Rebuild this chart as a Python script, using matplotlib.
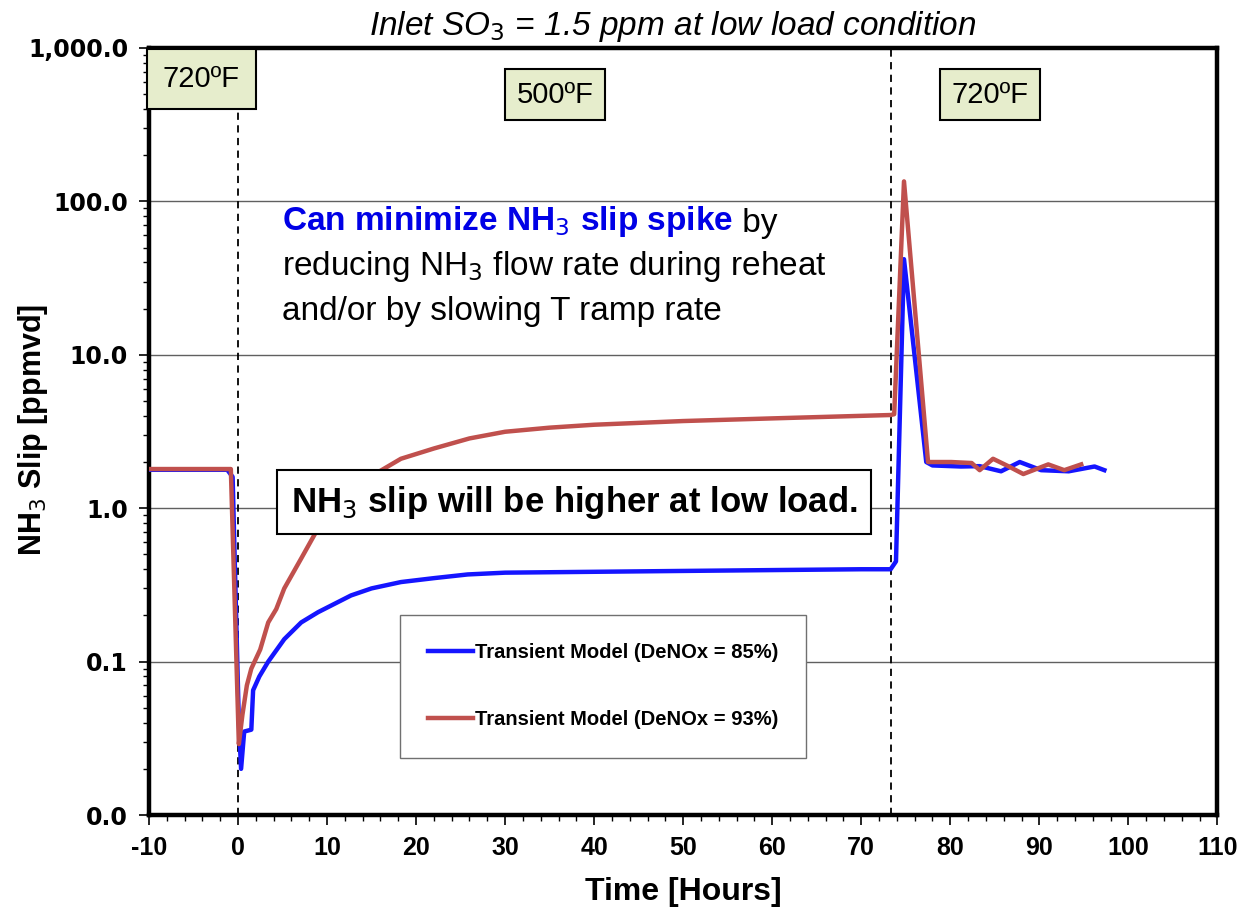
import numpy as np
import matplotlib
matplotlib.use('Agg')
import matplotlib.pyplot as plt
from matplotlib.ticker import FixedLocator, FuncFormatter, MultipleLocator, LogLocator

plt.rcParams['font.family'] = ['Liberation Sans', 'DejaVu Sans']
plt.rcParams['axes.unicode_minus'] = False

# transient model, DeNOx = 85%
t_85 = [-10, -1.2, -0.6, 0.1, 0.35, 0.7, 1.5, 1.7, 2.4, 3.4, 5.2, 7.1, 9.0, 12.7,
        15.0, 18.3, 22.0, 25.8, 30.0, 40.0, 50.0, 60.0, 70.0, 73.3, 73.9, 74.8,
        77.3, 78.0, 81.2, 83.3, 85.7, 87.8, 90.2, 93.3, 96.2, 97.3]
slip_85 = [1.78, 1.78, 1.6, 0.04, 0.02, 0.035, 0.036, 0.065, 0.08, 0.10, 0.14, 0.18,
           0.21, 0.27, 0.30, 0.33, 0.35, 0.37, 0.38, 0.385, 0.39, 0.395, 0.40, 0.40,
           0.45, 42.0, 2.0, 1.9, 1.87, 1.88, 1.74, 2.0, 1.77, 1.74, 1.87, 1.77]

# transient model, DeNOx = 93%
t_93 = [-10, -0.8, 0.1, 0.5, 1.0, 1.5, 2.5, 3.4, 4.3, 5.2, 7.1, 9.0, 10.8, 14.6,
        18.3, 22.0, 26.0, 30.0, 35.0, 40.0, 50.0, 60.0, 70.0, 73.3, 73.7, 74.8,
        77.5, 80.1, 82.4, 83.3, 84.8, 86.5, 88.2, 91.0, 92.8, 94.7]
slip_93 = [1.8, 1.8, 0.029, 0.045, 0.07, 0.09, 0.12, 0.18, 0.22, 0.30, 0.47, 0.74,
           1.0, 1.57, 2.1, 2.45, 2.85, 3.15, 3.35, 3.5, 3.7, 3.85, 4.0, 4.05, 4.1,
           135.0, 2.0, 2.0, 1.97, 1.77, 2.1, 1.88, 1.67, 1.93, 1.77, 1.93]

switch_times = [0, 73.3]
temp_labels = ['720ºF', '500ºF', '720ºF']
yticks = [0.01, 0.1, 1, 10, 100, 1000]

fig = plt.figure(figsize=(12.41, 9.14), dpi=100)
ax = fig.add_axes([0.120, 0.1083, 0.861, 0.8392])

ax.plot(t_85, slip_85, color='#1515ff', lw=3.2, label='Transient Model (DeNOx = 85%)', zorder=3)
ax.plot(t_93, slip_93, color='#c0504d', lw=3.2, label='Transient Model (DeNOx = 93%)', zorder=4)

for ts in switch_times:
    ax.axvline(ts, color='black', ls=(0, (4, 3)), lw=1.3, zorder=2)

ax.set_yscale('log')
ax.set_ylim(0.01, 1000)
ax.set_xlim(-10, 110)
ax.yaxis.set_major_locator(FixedLocator(yticks))
ax.yaxis.set_minor_locator(LogLocator(base=10, subs=np.arange(2, 10)))
ax.yaxis.set_major_formatter(FuncFormatter(lambda v, p: '{:,.1f}'.format(v)))
ax.yaxis.set_minor_formatter(FuncFormatter(lambda v, p: ''))
ax.xaxis.set_major_locator(MultipleLocator(10))
ax.xaxis.set_minor_locator(MultipleLocator(2))
ax.grid(True, axis='y', which='major', color='#606060', lw=1.0, zorder=1)

for s in ax.spines.values():
    s.set_linewidth(3.2)
ax.tick_params(which='major', direction='out', length=7, width=1.2)
ax.tick_params(which='minor', direction='out', length=4, width=1.0)
for lab in ax.get_yticklabels():
    lab.set_fontfamily('DejaVu Sans')
    lab.set_fontweight('bold')
    lab.set_fontsize(17)
for lab in ax.get_xticklabels():
    lab.set_fontweight('bold')
    lab.set_fontsize(18)
ax.tick_params(axis='x', pad=8)
ax.tick_params(axis='y', pad=8)

ax.set_xlabel('Time [Hours]', fontsize=23, fontweight='bold', labelpad=12)
ax.set_ylabel('NH$_3$ Slip [ppmvd]', fontsize=22, fontweight='bold')
ax.yaxis.set_label_coords(-0.093, 0.502)

fig.text(0.542, 1 - 27 / 914, 'Inlet SO$_3$ = 1.5 ppm at low load condition',
         fontsize=24, style='italic', ha='center', va='center')

# temperature boxes
box_pos = [(0.049, 0.960), (0.380, 0.939), (0.787, 0.939)]
box_pad = [0.55, 0.4, 0.4]
for (bx, by), lab, pd in zip(box_pos, temp_labels, box_pad):
    ax.text(bx, by, lab, transform=ax.transAxes, fontsize=21, ha='center', va='center',
            zorder=6,
            bbox=dict(boxstyle='square,pad=%.2f' % pd, fc='#e6edcc', ec='black', lw=1.5))

# annotation text
t1 = ax.text(0.125, 0.763, 'Can minimize NH$_3$ slip spike', transform=ax.transAxes,
             fontsize=24, fontweight='bold', color='#0000e6', ha='left', va='baseline')
ax.annotate(' by', xy=(1, 0), xycoords=t1, fontsize=24, ha='left', va='bottom')
ax.text(0.125, 0.704, 'reducing NH$_3$ flow rate during reheat', transform=ax.transAxes,
        fontsize=24, ha='left', va='baseline')
ax.text(0.125, 0.645, 'and/or by slowing T ramp rate', transform=ax.transAxes,
        fontsize=24, ha='left', va='baseline')

ax.text(0.398, 0.408, 'NH$_3$ slip will be higher at low load.', transform=ax.transAxes,
        fontsize=25, fontweight='bold', ha='center', va='center', zorder=6,
        bbox=dict(boxstyle='square,pad=0.4', fc='white', ec='black', lw=1.5))

leg = ax.legend(loc='upper left', bbox_to_anchor=(0.235, 0.261), fancybox=False,
                prop={'weight': 'bold', 'size': 14.5}, handlelength=2.2, handletextpad=0.1,
                labelspacing=2.4, borderpad=1.4, borderaxespad=0, framealpha=1,
                edgecolor='#707070')
leg.get_frame().set_linewidth(1.0)
leg.set_zorder(7)

plt.savefig('out.png', dpi=100)
